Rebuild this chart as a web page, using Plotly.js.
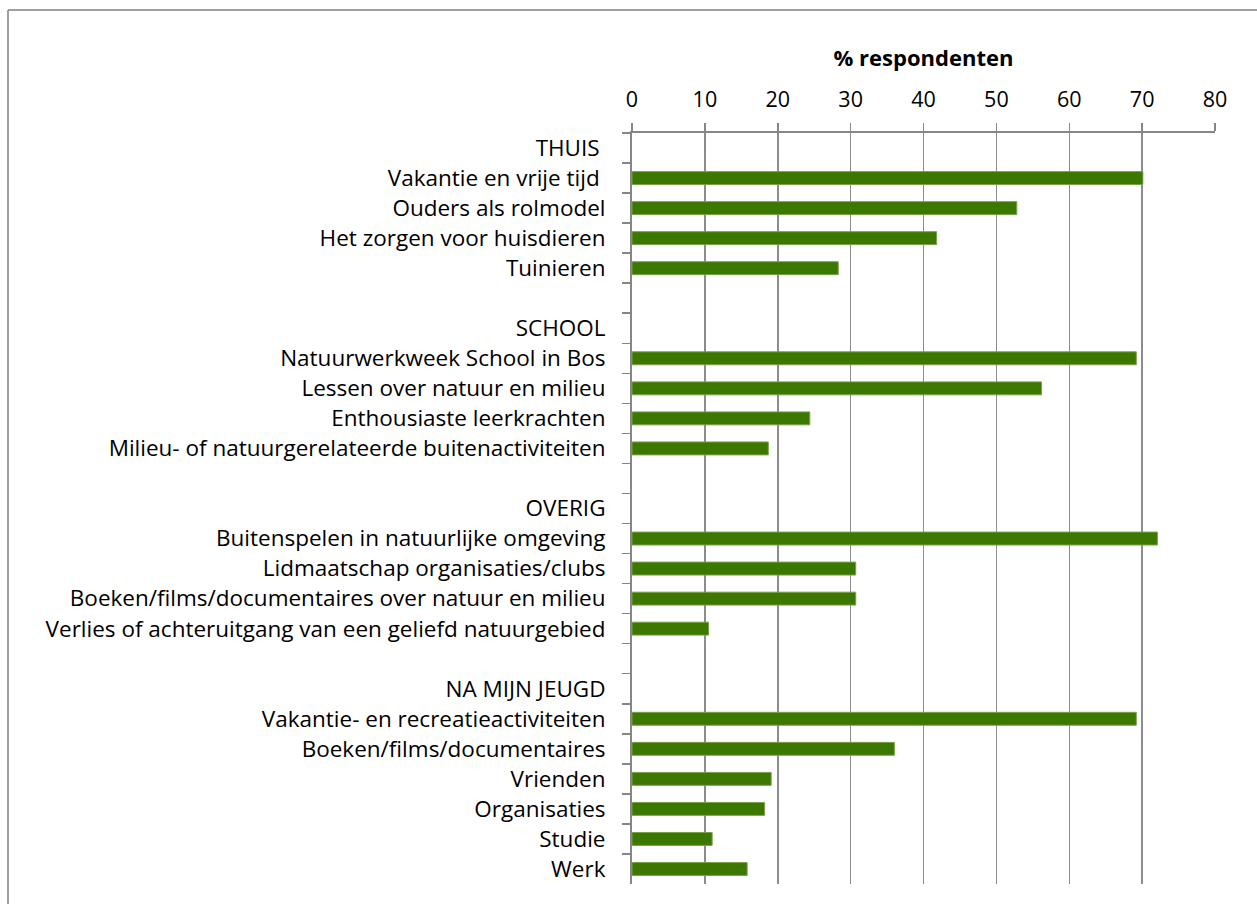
<!DOCTYPE html>
<html>
<head>
<meta charset="utf-8">
<script src="https://cdn.plot.ly/plotly-3.0.1.min.js"></script>
<style>
  html, body { margin: 0; padding: 0; background: #fff; }
  #chart { width: 1257px; height: 904px; }
</style>
</head>
<body>
<div id="chart"></div>
<script>
// ---- data ----
const groupNames = ['THUIS\u00a0', 'SCHOOL', 'OVERIG', 'NA MIJN JEUGD'];

const thuisItems = ['Vakantie en vrije tijd\u00a0', 'Ouders als rolmodel', 'Het zorgen voor huisdieren', 'Tuinieren'];
const thuisValues = [70.1, 52.8, 41.8, 28.3];

const schoolItems = ['Natuurwerkweek School in Bos', 'Lessen over natuur en milieu', 'Enthousiaste leerkrachten', 'Milieu- of natuurgerelateerde buitenactiviteiten'];
const schoolValues = [69.2, 56.2, 24.4, 18.7];

const overigItems = ['Buitenspelen in natuurlijke omgeving', 'Lidmaatschap organisaties/clubs', 'Boeken/films/documentaires over natuur en milieu', 'Verlies of achteruitgang van een geliefd natuurgebied'];
const overigValues = [72.1, 30.7, 30.7, 10.5];

const jeugdItems = ['Vakantie- en recreatieactiviteiten', 'Boeken/films/documentaires', 'Vrienden', 'Organisaties', 'Studie', 'Werk'];
const jeugdValues = [69.2, 36.0, 19.1, 18.2, 11.0, 15.8];

const xTickValues = [0, 10, 20, 30, 40, 50, 60, 70, 80];

// ---- build rows ----
const groupItems = [thuisItems, schoolItems, overigItems, jeugdItems];
const groupValues = [thuisValues, schoolValues, overigValues, jeugdValues];
const categories = [];
const values = [];
groupNames.forEach((g, gi) => {
  categories.push(g); values.push(null);
  groupItems[gi].forEach((it, i) => { categories.push(it); values.push(groupValues[gi][i]); });
  if (gi < groupNames.length - 1) {
    categories.push('\u00a0'.repeat(gi + 1)); values.push(null);
  }
});

const W = 1257, H = 904;
const L = 632, R = 1215, T = 133, B = 884;
const pw = R - L, ph = B - T;
const px = v => (v - L) / pw;
const py = v => (B - v) / ph;

const FONT = '"Open Sans", Lato, sans-serif';

const trace = {
  type: 'bar',
  orientation: 'h',
  x: values,
  y: categories,
  width: 0.43,
  marker: { color: '#3c7700', line: { color: '#79a04a', width: 1 } },
  hoverinfo: 'x+y'
};

const layout = {
  width: W, height: H,
  margin: { l: L, r: W - R, t: T, b: H - B, pad: 0 },
  paper_bgcolor: '#ffffff',
  plot_bgcolor: '#ffffff',
  showlegend: false,
  font: { family: FONT, color: '#000', size: 20 },
  xaxis: {
    side: 'top',
    range: [0, 80],
    tickmode: 'array',
    tickvals: xTickValues,
    ticks: 'outside', ticklen: 8, tickwidth: 1.5, tickcolor: '#868686',
    ticklabelstandoff: 7,
    showgrid: true, gridcolor: '#8c8c8c', gridwidth: 1.5,
    zeroline: false,
    showline: true, linecolor: '#868686', linewidth: 2,
    tickfont: { size: 21.5, family: FONT, color: '#000' },
    title: { text: '<b>% respondenten</b>', font: { size: 22, family: FONT, color: '#000' }, standoff: 12 },
    fixedrange: true
  },
  yaxis: {
    type: 'category',
    range: [categories.length - 0.5, -0.5],
    tickson: 'boundaries',
    ticks: 'outside', ticklen: 8, tickwidth: 1.5, tickcolor: '#868686',
    ticklabelstandoff: 20,
    showgrid: false, zeroline: false,
    showline: true, linecolor: '#868686', linewidth: 2,
    tickfont: { size: 22.5, family: FONT, color: '#000' },
    fixedrange: true
  },
  shapes: [
    { type: 'line', xref: 'paper', yref: 'paper', x0: px(8), x1: px(8), y0: py(10), y1: py(910), line: { color: '#808080', width: 1.5 } },
    { type: 'line', xref: 'paper', yref: 'paper', x0: px(8), x1: px(1265), y0: py(10), y1: py(10), line: { color: '#808080', width: 1.5 } }
  ]
};

Plotly.newPlot('chart', [trace], layout, { displayModeBar: false, staticPlot: true });
</script>
</body>
</html>
